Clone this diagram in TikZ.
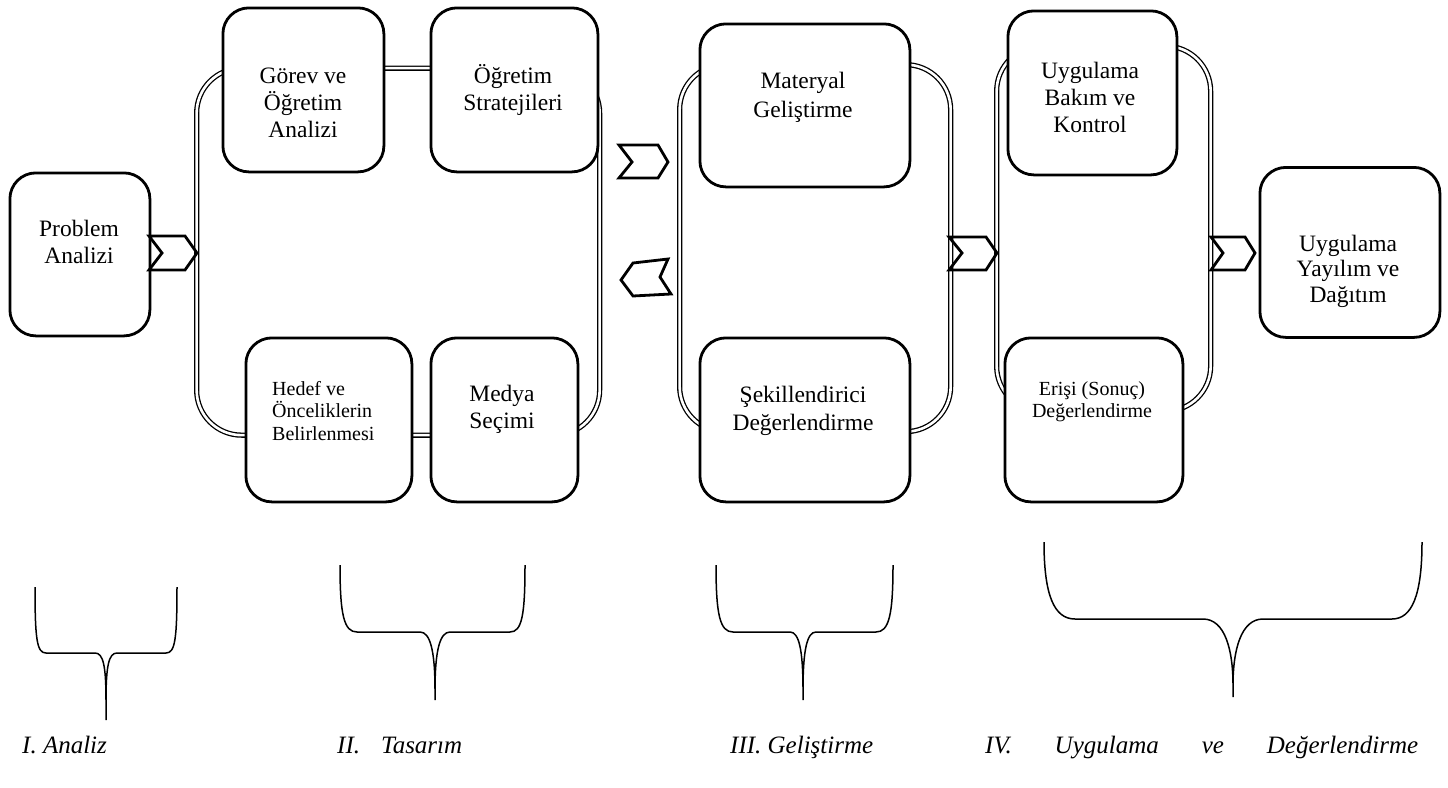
\documentclass[tikz,border=0pt]{standalone}
\usepackage{fontspec}
\setmainfont{Liberation Serif}
\begin{document}
\begin{tikzpicture}[x=1pt,y=-1pt,
  box/.style={draw, line width=2.8pt, rounded corners=26pt, fill=white,
    anchor=north west, inner sep=0pt},
  frame/.style={draw, line width=1.3pt, double=white, double distance=2.6pt,
    rounded corners=45pt, anchor=north west, inner sep=0pt},
  chev/.style={draw, line width=2.8pt, line join=miter},
  brace/.style={draw, line width=1.5pt},
  txt/.style={font=\fontsize{23.5}{27}\selectfont, align=center, anchor=base, inner sep=0pt},
  smalltxt/.style={font=\fontsize{20}{22.5}\selectfont, anchor=base, inner sep=0pt},
  phase/.style={font=\itshape\fontsize{25}{28}\selectfont, anchor=base west, inner sep=0pt}]

\useasboundingbox (0,0) rectangle (1448,787);

% phase frames (double outlines)
\node[frame, minimum width=403pt, minimum height=367pt] (g1) at (196,67.5) {};
\node[frame, minimum width=271pt, minimum height=367pt] (g2) at (679,64) {};
\node[frame, minimum width=214pt, minimum height=365pt] (g3) at (996,45.5) {};

% step boxes
\node[box, minimum width=140pt, minimum height=163pt] (prob)   at (8.5,171.5) {};
\node[box, minimum width=161pt, minimum height=164pt] (gorev)  at (221.5,6.5) {};
\node[box, minimum width=167pt, minimum height=164pt] (ogret)  at (429.5,6.5) {};
\node[box, minimum width=166pt, minimum height=164pt] (hedef)  at (244.5,336.5) {};
\node[box, minimum width=147pt, minimum height=164pt] (medya)  at (429.5,336.5) {};
\node[box, minimum width=210pt, minimum height=163pt] (mater)  at (698.5,22.5) {};
\node[box, minimum width=210pt, minimum height=164pt] (sekil)  at (698.5,336.5) {};
\node[box, minimum width=169pt, minimum height=164pt] (uygbak) at (1006.5,9.5) {};
\node[box, minimum width=178pt, minimum height=164pt] (erisi)  at (1003.5,336.5) {};
\node[box, minimum width=180pt, minimum height=170pt] (yayim)  at (1258.5,166) {};

% box texts (positioned by the baseline of the last line)
\node[txt] (probT)   at (79,263)   {Problem\\Analizi};
\node[txt] (gorevT)  at (303,137)  {Görev ve\\Öğretim\\Analizi};
\node[txt] (ogretT)  at (513,110)  {Öğretim\\Stratejileri};
\node[smalltxt, anchor=base west, align=left] (hedefT) at (272,440) {Hedef ve\\Önceliklerin\\Belirlenmesi};
\node[txt] (medyaT)  at (502,428)  {Medya\\Seçimi};
\node[txt, font=\fontsize{23.5}{28.5}\selectfont] (materT) at (803,117) {Materyal\\Geliştirme};
\node[txt, font=\fontsize{23.5}{28}\selectfont] (sekilT) at (803,430) {Şekillendirici\\Değerlendirme};
\node[txt] (uygbakT) at (1090,132) {Uygulama\\Bakım ve\\Kontrol};
\node[smalltxt, align=center, font=\fontsize{20}{22}\selectfont] (erisiT) at (1092,417) {Erişi (Sonuç)\\Değerlendirme};
\node[txt, font=\fontsize{23.5}{25.5}\selectfont] (yayimT) at (1348,302) {Uygulama\\Yayılım ve\\Dağıtım};

% chevron arrows between phases
\draw[chev] (149,236) -- (185,236) -- (197,253) -- (185,270) -- (149,270) -- (162,253) -- cycle;
\draw[chev] (619,145) -- (658,145) -- (668,162) -- (658,178) -- (619,178) -- (632,162) -- cycle;
\draw[chev] (668,259) -- (633,263) -- (621,280) -- (633,296) -- (671,294) -- (660,277) -- cycle;
\draw[chev] (949,237) -- (986,237) -- (997,253) -- (986,270) -- (949,270) -- (962,253) -- cycle;
\draw[chev] (1211,237) -- (1245,237) -- (1255,253) -- (1245,270) -- (1211,270) -- (1223,253) -- cycle;

% braces under the phases
\draw[brace] (35,587) .. controls (35,640) and (37,653) .. (46,653) -- (95,653)
  .. controls (103,653) and (106,665) .. (106,700) -- (106,720) -- (106,700)
  .. controls (106,665) and (109,653) .. (117,653) -- (166,653)
  .. controls (175,653) and (177,640) .. (177,587);
\draw[brace] (340,565) .. controls (340,615) and (344,632) .. (357,632) -- (420,632)
  .. controls (430,632) and (435,650) .. (435,690) -- (435,700) -- (435,690)
  .. controls (435,650) and (440,632) .. (450,632) -- (510,632)
  .. controls (522,632) and (525,615) .. (525,565);
\draw[brace] (716,565) .. controls (716,615) and (720,632) .. (733,632) -- (790,632)
  .. controls (799,632) and (803,650) .. (803,690) -- (803,700) -- (803,690)
  .. controls (803,650) and (807,632) .. (816,632) -- (876,632)
  .. controls (889,632) and (893,615) .. (893,565);
\draw[brace] (1044,542) .. controls (1044,595) and (1054,619) .. (1075,619) -- (1203,619)
  .. controls (1225,619) and (1233,650) .. (1233,685) -- (1233,697) -- (1233,685)
  .. controls (1233,650) and (1241,619) .. (1263,619) -- (1392,619)
  .. controls (1412,619) and (1422,595) .. (1422,542);

% phase labels
\node[phase] (p1) at (22,753)  {I. Analiz};
\node[phase] (p2) at (337,753) {\makebox[125pt][s]{II. Tasarım}};
\node[phase] (p3) at (730,753) {III. Geliştirme};
\node[phase] (p4) at (985,753) {\makebox[433pt][s]{IV. Uygulama ve Değerlendirme}};
\end{tikzpicture}
\end{document}
